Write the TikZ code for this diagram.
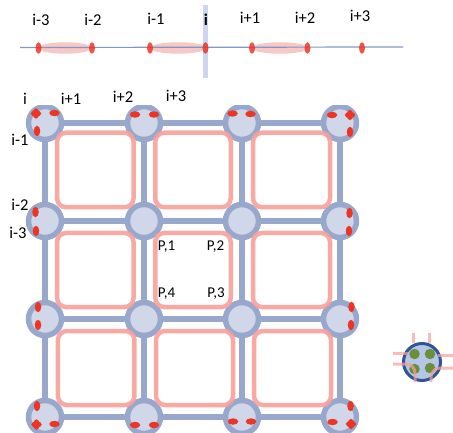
\documentclass[tikz,border=0pt]{standalone}
\usepackage{fontspec}
\setmainfont{Carlito}
\usetikzlibrary{shapes.geometric}
\definecolor{gridblue}{HTML}{97A8CC}
\definecolor{hubfill}{HTML}{CFD7E8}
\definecolor{pinkline}{HTML}{F8A09A}
\definecolor{dotred}{HTML}{EE3524}
\definecolor{lens}{HTML}{F8C8C4}
\definecolor{axisblue}{HTML}{7F96CC}
\definecolor{barblue}{HTML}{CDD6EE}
\definecolor{navy}{HTML}{2F5597}
\definecolor{chipfill}{HTML}{B4C7E7}
\definecolor{chipgreen}{HTML}{6B8E3A}
\tikzset{
  hub/.style={circle,draw=gridblue,fill=hubfill,line width=5.5pt,minimum size=33pt,inner sep=0pt},
  link/.style={draw=gridblue,line width=5.2pt},
  plaquette/.style={rectangle,draw=pinkline,line width=4.5pt,rounded corners=9pt,draw opacity=.9,inner sep=0pt},
  vdot/.style={ellipse,fill=dotred,draw=none,minimum width=6.5pt,minimum height=10.5pt,inner sep=0pt},
  hdot/.style={ellipse,fill=dotred,draw=none,minimum width=10.5pt,minimum height=6.5pt,inner sep=0pt},
  adot/.style={vdot,minimum width=6pt,minimum height=11.5pt,fill opacity=.85},
  lensshape/.style={ellipse,fill=lens,draw=none,minimum height=11.5pt,inner sep=0pt},
  lab/.style={inner sep=0pt,font=\fontsize{16.5}{16.5}\selectfont},
  plab/.style={inner sep=0pt,font=\fontsize{15}{15}\selectfont},
  stub/.style={draw=pinkline,line width=3pt,draw opacity=.7,rounded corners=9pt},
  gdot/.style={circle,fill=chipgreen,draw=none,minimum size=10.5pt,inner sep=0pt}
}
\begin{document}
\begin{tikzpicture}[x=1pt,y=-1pt]
\useasboundingbox (0,0) rectangle (453,433);
% top chain
\fill[barblue] (203,5) rectangle (208,78);
\node[lensshape,minimum width=54pt] (l1) at (65,48) {};
\node[lensshape,minimum width=56pt] (l2) at (178,48) {};
\node[lensshape,minimum width=56pt] (l3) at (280,48) {};
\coordinate (axisL) at (20,47.5);
\coordinate (axisR) at (403,47);
\draw[axisblue,line width=1.2pt] (axisL) -- (axisR);
\foreach \nm/\px in {am3/38.5,am2/92,am1/150,a0/205.5,ap1/252,ap2/307.5,ap3/362}
  \node[adot] (\nm) at (\px,48) {};
\node[lab] at (41,20) {i-3};
\node[lab] at (93,20) {i-2};
\node[lab] at (156,19) {i-1};
\node[lab] at (206,20) {\bfseries i};
\node[lab] at (250,18) {i+1};
\node[lab] at (305,18) {i+2};
\node[lab] at (360,16) {i+3};
% grid
\begin{scope}
\clip (0,106) rectangle (359,433);
\foreach \c/\px in {1/45,2/144,3/242,4/340}
  \foreach \r/\py in {1/123,2/221,3/319,4/417}
    \node[hub] (h\r\c) at (\px,\py) {};
\foreach \r in {1,2,3,4}{
  \draw[link] (h\r1) -- (h\r2);
  \draw[link] (h\r2) -- (h\r3);
  \draw[link] (h\r3) -- (h\r4);
}
\foreach \c in {1,2,3,4}{
  \draw[link] (h1\c) -- (h2\c);
  \draw[link] (h2\c) -- (h3\c);
  \draw[link] (h3\c) -- (h4\c);
}
\foreach \c/\px/\w in {1/95.3/76.5,2/193/75.5,3/291.5/77}
  \foreach \r/\py/\h in {1/170/74.5,2/270/74}
    \node[plaquette,minimum width=\w pt,minimum height=\h pt] (q\r\c) at (\px,\py) {};
\foreach \c/\px/\w in {1/96.2/76.5,2/194.5/77,3/292.5/77}
  \node[plaquette,minimum width=\w pt,minimum height=74pt] (q3\c) at (\px,368) {};
% red dots
\foreach \nm/\px/\py in {a/36/113.5,b/37/131,c/35.5/212,d/36/231,e/38/307,f/38/325,g/37/406,h/36.5/424.5,
  i/349.5/213,j/349/231,k/351.5/307,l/351/325,m/350.5/406,n/351/424,o/350/132,p/350/115}
  \node[vdot] (v\nm) at (\px,\py) {};
\foreach \nm/\px/\py in {a/36/113.5,b/54.5/113,c/135/114.5,d/154/114.5,e/232.5/113.5,f/250.5/114,g/332/115,h/350/115,
  i/36.5/424.5,j/54.5/424,k/135/425,l/154/425,m/233/421.5,n/251/421.5,o/332.5/422,p/351/424}
  \node[hdot] (d\nm) at (\px,\py) {};
\end{scope}
% grid labels
\node[lab] at (25,99) {i};
\node[lab] at (71,99) {i+1};
\node[lab] at (123,97) {i+2};
\node[lab] at (176,96) {i+3};
\node[lab] at (20,140) {i-1};
\node[lab] at (20,205) {i-2};
\node[lab] at (18,233) {i-3};
\node[plab] at (166.5,247) {P,1};
\node[plab] at (215.5,247) {P,2};
\node[plab] at (166.5,294) {P,4};
\node[plab] at (216,294) {P,3};
% chip
\node[circle,draw=navy,fill=chipfill,line width=3pt,minimum size=37pt,inner sep=0pt] (chip) at (422,362) {};
\foreach \nm/\px/\py in {ga/414.5/354,gb/430/354,gc/414.5/369,gd/430/368}
  \node[gdot] (\nm) at (\px,\py) {};
\draw[stub] (413,333) -- (413,343);
\draw[stub] (393,353) -- (408,353);
\draw[stub] (429,333) -- (429,343);
\draw[stub] (438,355) -- (453,355);
\draw[stub] (393,364) -- (415,364) -- (415,382);
\draw[stub] (453,368) -- (431,368) -- (431,382);
\end{tikzpicture}
\end{document}
